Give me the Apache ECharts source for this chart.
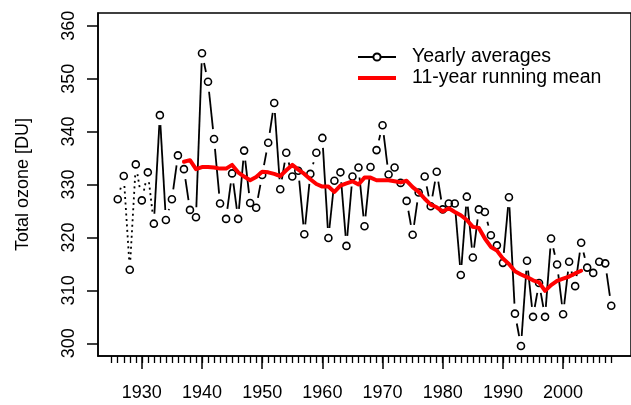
<!DOCTYPE html>
<html>
<head>
<meta charset="utf-8">
<script src="https://cdn.jsdelivr.net/npm/echarts@6.0.0/dist/echarts.min.js"></script>
<style>
  html, body { margin: 0; padding: 0; background: #fff; }
  #chart { width: 631px; height: 405px; }
</style>
</head>
<body>
<div id="chart"></div>
<script>
// yearly total ozone, 1926-2008
const years = [
  1926, 1927, 1928, 1929, 1930, 1931, 1932, 1933, 1934, 1935,
  1936, 1937, 1938, 1939, 1940, 1941, 1942, 1943, 1944, 1945,
  1946, 1947, 1948, 1949, 1950, 1951, 1952, 1953, 1954, 1955,
  1956, 1957, 1958, 1959, 1960, 1961, 1962, 1963, 1964, 1965,
  1966, 1967, 1968, 1969, 1970, 1971, 1972, 1973, 1974, 1975,
  1976, 1977, 1978, 1979, 1980, 1981, 1982, 1983, 1984, 1985,
  1986, 1987, 1988, 1989, 1990, 1991, 1992, 1993, 1994, 1995,
  1996, 1997, 1998, 1999, 2000, 2001, 2002, 2003, 2004, 2005,
  2006, 2007, 2008
];
const ozone = [
  327.2, 331.6, 313.9, 333.8, 327.0, 332.3, 322.6, 343.1, 323.3, 327.2,
  335.5, 332.9, 325.2, 323.8, 354.8, 349.4, 338.6, 326.4, 323.5, 332.1,
  323.5, 336.4, 326.5, 325.6, 331.8, 337.9, 345.4, 329.1, 336.0, 331.5,
  332.6, 320.6, 332.0, 336.0, 338.8, 319.9, 330.7, 332.3, 318.4, 331.5,
  333.2, 322.1, 333.3, 336.5, 341.2, 331.9, 333.2, 330.3, 326.9, 320.5,
  328.5, 331.5, 325.9, 332.4, 325.3, 326.4, 326.4, 312.9, 327.7, 316.2,
  325.3, 324.8, 320.4, 318.5, 315.2, 327.6, 305.6, 299.5, 315.6, 305.0,
  311.4, 305.0, 319.8, 314.9, 305.5, 315.4, 310.8, 319.0, 314.3, 313.3,
  315.4, 315.1, 307.1
];
// first segments (before 1932) are drawn dotted
const dottedUntil = 1932;

// 11-year running mean, 1937-2003
const meanYears = [
  1937, 1938, 1939, 1940, 1941, 1942, 1943, 1944, 1945, 1946,
  1947, 1948, 1949, 1950, 1951, 1952, 1953, 1954, 1955, 1956,
  1957, 1958, 1959, 1960, 1961, 1962, 1963, 1964, 1965, 1966,
  1967, 1968, 1969, 1970, 1971, 1972, 1973, 1974, 1975, 1976,
  1977, 1978, 1979, 1980, 1981, 1982, 1983, 1984, 1985, 1986,
  1987, 1988, 1989, 1990, 1991, 1992, 1993, 1994, 1995, 1996,
  1997, 1998, 1999, 2000, 2001, 2002, 2003
];
const meanValues = [
  334.3, 334.6, 332.9, 333.3, 333.3, 333.2, 333.0, 333.0, 333.7, 332.3,
  331.5, 330.8, 331.4, 332.4, 332.3, 332.0, 331.6, 332.7, 333.7, 332.8,
  332.0, 331.0, 330.1, 329.6, 329.6, 328.6, 329.8, 330.2, 330.6, 330.0,
  331.3, 331.3, 330.8, 330.8, 330.8, 330.6, 330.4, 330.7, 329.5, 328.6,
  327.3, 326.2, 325.7, 324.9, 325.5, 324.8, 324.2, 323.3, 322.0, 321.8,
  319.8, 318.2, 317.5, 316.0, 315.0, 313.6, 313.0, 312.5, 311.9, 311.5,
  309.9, 311.0, 311.8, 312.2, 312.6, 313.2, 313.7
];

// axis ticks
const xLabelTicks = [1930, 1940, 1950, 1960, 1970, 1980, 1990, 2000];
const xMinorTicks = [];
for (let y = 1925; y <= 2008; y++) xMinorTicks.push(y);
const yTicks = [300, 310, 320, 330, 340, 350, 360];

const FONT = "'Liberation Sans', Arial, sans-serif";
const GAP = 10; // gap around points, like R type = "b"

const points = years.map((y, i) => [y, ozone[i]]);
const segments = [];
for (let i = 0; i < years.length - 1; i++) {
  segments.push([years[i], ozone[i], years[i + 1], ozone[i + 1], years[i + 1] <= dottedUntil ? 1 : 0]);
}
const meanData = meanYears.map((y, i) => [y, meanValues[i]]);

const chart = echarts.init(document.getElementById('chart'), null, { renderer: 'canvas' });

const option = {
  animation: false,
  backgroundColor: '#fff',
  textStyle: { fontFamily: FONT },
  grid: {
    left: 98, right: -1, top: 13, bottom: 49,
    show: true, borderColor: '#000', borderWidth: 1.5, backgroundColor: 'transparent'
  },
  legend: {
    orient: 'vertical',
    left: 352, top: 42,
    itemWidth: 38, itemHeight: 9, itemGap: 1,
    selectedMode: false,
    textStyle: { fontSize: 19.5, color: '#000', fontFamily: FONT, padding: [0, 0, 0, 11], lineHeight: 19.5 },
    data: [
      { name: 'Yearly averages' },
      { name: '11-year running mean', icon: 'path://M0,0H38V4H0Z' }
    ]
  },
  xAxis: [
    {
      type: 'value', min: 1922.72, max: 2011.28,
      axisLine: { show: true, onZero: false, lineStyle: { color: '#000', width: 1.5 } },
      axisTick: { show: true, length: 13, customValues: xLabelTicks, lineStyle: { color: '#000', width: 1.5 } },
      axisLabel: {
        customValues: xLabelTicks, margin: 28, fontSize: 18, color: '#000', fontFamily: FONT,
        formatter: v => String(v)
      },
      splitLine: { show: false }
    },
    {
      type: 'value', min: 1922.72, max: 2011.28, position: 'bottom',
      axisLine: { show: false, onZero: false },
      axisTick: { show: true, length: 7, customValues: xMinorTicks, lineStyle: { color: '#000', width: 1.3 } },
      axisLabel: { show: false },
      splitLine: { show: false }
    }
  ],
  yAxis: {
    type: 'value', min: 297.6, max: 362.4,
    name: 'Total ozone [DU]', nameLocation: 'middle', nameGap: 66, nameRotate: 90,
    nameTextStyle: { fontSize: 18, color: '#000', fontFamily: FONT },
    axisLine: { show: true, onZero: false, lineStyle: { color: '#000', width: 1.5 } },
    axisTick: { show: true, length: 11, customValues: yTicks, lineStyle: { color: '#000', width: 1.5 } },
    axisLabel: { customValues: yTicks, rotate: 90, margin: 20, fontSize: 18, color: '#000', fontFamily: FONT },
    splitLine: { show: false }
  },
  series: [
    {
      name: 'segments',
      type: 'custom',
      silent: true,
      z: 2,
      encode: { x: [0, 2], y: [1, 3] },
      data: segments,
      renderItem: function (params, api) {
        const p0 = api.coord([api.value(0), api.value(1)]);
        const p1 = api.coord([api.value(2), api.value(3)]);
        const dx = p1[0] - p0[0], dy = p1[1] - p0[1];
        const d = Math.sqrt(dx * dx + dy * dy);
        if (d <= 2 * GAP) return null;
        const f = GAP / d;
        return {
          type: 'line',
          shape: { x1: p0[0] + dx * f, y1: p0[1] + dy * f, x2: p1[0] - dx * f, y2: p1[1] - dy * f },
          style: {
            stroke: '#000', lineWidth: 1.8,
            lineDash: api.value(4) ? [2, 3.5] : null
          }
        };
      }
    },
    {
      name: 'points',
      type: 'scatter',
      silent: true,
      z: 3,
      symbol: 'circle',
      symbolSize: 7,
      itemStyle: { color: 'rgba(0,0,0,0)', borderColor: '#000', borderWidth: 1.6, opacity: 1 },
      data: points
    },
    {
      // legend entry only
      name: 'Yearly averages',
      type: 'line',
      symbol: 'emptyCircle',
      itemStyle: { color: '#000' },
      lineStyle: { color: '#000', width: 1.8 },
      data: []
    },
    {
      name: '11-year running mean',
      type: 'line',
      silent: true,
      z: 4,
      symbol: 'none',
      itemStyle: { color: '#ff0000' },
      lineStyle: { color: '#ff0000', width: 4, cap: 'round', join: 'round' },
      data: meanData
    }
  ]
};

chart.setOption(option);
</script>
</body>
</html>
